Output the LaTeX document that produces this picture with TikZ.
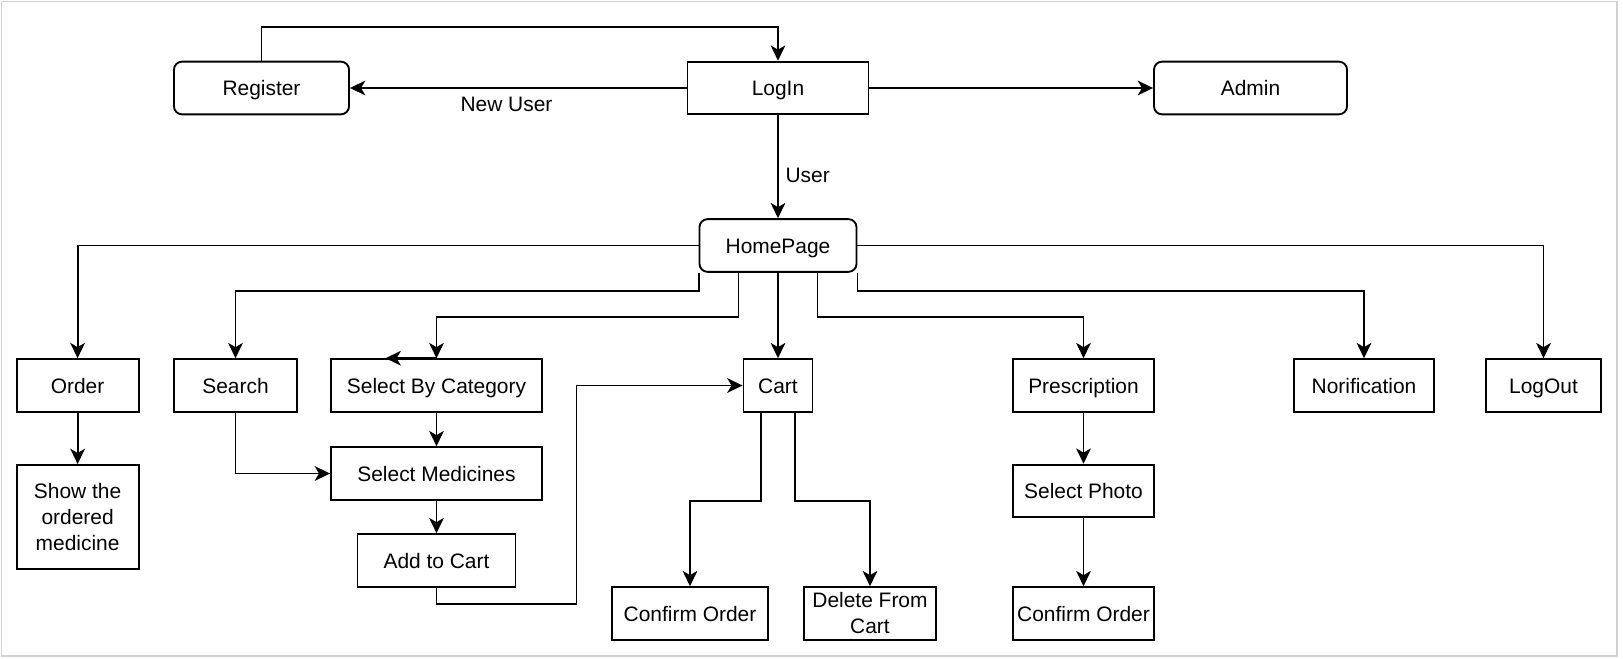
\documentclass[tikz,border=0pt]{standalone}
\usepackage{fontspec}
\setmainfont{Liberation Sans}
\usetikzlibrary{arrows.meta,calc}
\begin{document}
\begin{tikzpicture}[x=0.75pt,y=-0.75pt,
  box/.style={draw, line width=1.4pt, inner sep=0pt, align=center,
    font=\fontsize{15.7}{19.5}\selectfont, text height=11.3pt, text depth=0pt,
    minimum height=39.5pt},
  rbox/.style={box, rounded corners=6pt},
  mbox/.style={box, text height={}, text depth={}},
  arr/.style={line width=1.4pt, -{Stealth[length=11.5pt,width=11pt,inset=3.2pt]}},
  lbl/.style={font=\fontsize{15.7}{19.5}\selectfont, inner sep=0pt}]
\useasboundingbox (0,0) rectangle (1623,659);
\draw[black!18, line width=1pt] (1.5,1.5) rectangle (1617,656);
% top row
\node[rbox, minimum width=131.25pt] (reg) at (261.5,88) {Register};
\node[box, minimum width=135.75pt] (login) at (778,88) {LogIn};
\node[rbox, minimum width=144.75pt] (admin) at (1250.5,88) {Admin};
\node[rbox, minimum width=117.75pt] (hp) at (778,245.5) {HomePage};
% second row
\node[box, minimum width=91.5pt] (order) at (77.6,385.5) {Order};
\node[box, minimum width=92.25pt] (search) at (235.5,385.5) {Search};
\node[box, minimum width=158.25pt] (sbc) at (436.5,385.5) {Select By Category};
\node[box, minimum width=51.75pt] (cart) at (778,385.5) {Cart};
\node[box, minimum width=105.75pt] (presc) at (1083.5,385.5) {Prescription};
\node[box, minimum width=105pt] (norif) at (1364,385.5) {Norification};
\node[box, minimum width=86.25pt] (logout) at (1543.5,385.5) {LogOut};
% lower nodes
\node[mbox, minimum width=91.5pt, minimum height=78pt] (show) at (77.6,517) {Show the\\ordered\\medicine};
\node[box, minimum width=158.25pt] (sm) at (436.5,473.5) {Select Medicines};
\node[box, minimum width=118.5pt] (add) at (436.5,560.5) {Add to Cart};
\node[box, minimum width=117pt] (conf1) at (690,613.5) {Confirm Order};
\node[mbox, minimum width=99pt] (del) at (870,613.5) {Delete From\\Cart};
\node[box, minimum width=105.75pt] (photo) at (1083.5,491) {Select Photo};
\node[box, minimum width=105.75pt] (conf2) at (1083.5,613.5) {Confirm Order};
% connectors
\draw[arr] (reg.north) -- ++(0,-34) -| (login.north);
\draw[arr] (login.west) -- node[lbl, pos=0.535, yshift=-12.5pt] (nu) {New User} (reg.east);
\draw[arr] (login.east) -- (admin.west);
\draw[arr] (login.south) -- node[lbl, pos=0.58, anchor=west, xshift=5pt] (us) {User} (hp.north);
\draw[arr] (hp.west) -| (order.north);
\draw[arr] (hp.south west) -- ++(0,18) -| (search.north);
\draw[arr] ($(hp.south)+(-39.5,0)$) -- ++(0,44) -| (sbc.north);
\draw[arr] (sbc.north) -- ++(-51,0);
\draw[arr] (hp.south) -- (cart.north);
\draw[arr] ($(hp.south)+(39.5,0)$) -- ++(0,44) -| (presc.north);
\draw[arr] (hp.south east) -- ++(0,18) -| (norif.north);
\draw[arr] (hp.east) -| (logout.north);
\draw[arr] (order.south) -- (show.north);
\draw[arr] (search.south) |- (sm.west);
\draw[arr] (sbc.south) -- (sm.north);
\draw[arr] (sm.south) -- (add.north);
\draw[arr] (add.south) -- ++(0,16) -- ++(140,0) |- (cart.west);
\draw[arr] ($(cart.south)+(-17,0)$) -- ++(0,88) -| (conf1.north);
\draw[arr] ($(cart.south)+(17,0)$) -- ++(0,88) -| (del.north);
\draw[arr] (presc.south) -- (photo.north);
\draw[arr] (photo.south) -- (conf2.north);
\end{tikzpicture}
\end{document}
